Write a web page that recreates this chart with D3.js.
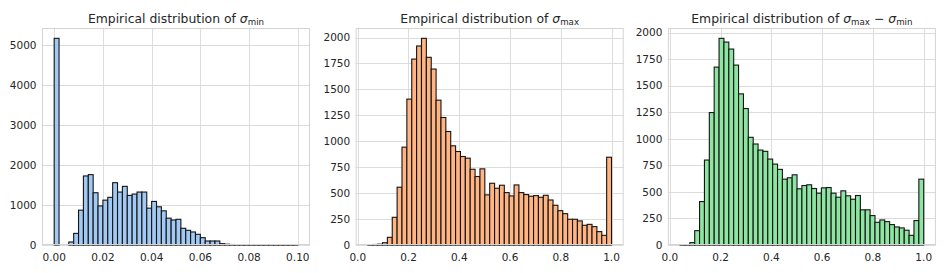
<!DOCTYPE html>
<html>
<head>
<meta charset="utf-8">
<script src="https://cdn.jsdelivr.net/npm/d3@7"></script>
<style>
    body { margin: 0; background: #fff; }
    text { font-family: "DejaVu Sans", sans-serif; fill: #262626; }
</style>
</head>
<body>
<svg id="chart" width="947" height="273"></svg>
<script>
/*global d3*/
// histogram counts, 50 equal-width bins each
var minRange = [0, 0.1],
    minCounts = [5160, 0, 0, 75, 290, 870, 1724, 1757, 1305, 975,
        1120, 1190, 1556, 1322, 1464, 1238, 1272, 1322, 1322, 920,
        1088, 954, 853, 670, 625, 642, 417, 367, 325, 267,
        183, 100, 100, 100, 33, 20, 12, 10, 8, 6,
        5, 4, 3, 3, 2, 2, 1, 1, 1, 1],
    maxRange = [0.04, 1.0],
    maxCounts = [3, 5, 8, 22, 74, 267, 557, 943, 1406, 1792,
        1918, 1992, 1809, 1696, 1396, 1229, 1094, 956, 901, 853,
        837, 730, 660, 734, 483, 595, 547, 576, 505, 473,
        579, 505, 486, 470, 476, 460, 479, 434, 383, 331,
        302, 248, 248, 232, 190, 199, 177, 129, 93, 846],
    diffRange = [0.04, 1.0],
    diffCounts = [2, 3, 22, 135, 409, 800, 1247, 1675, 1946, 1911,
        1845, 1694, 1423, 1285, 1014, 951, 894, 882, 809, 762,
        712, 620, 633, 661, 529, 560, 567, 532, 488, 538,
        541, 488, 450, 510, 463, 431, 466, 331, 331, 277,
        214, 236, 220, 192, 170, 161, 139, 91, 230, 620],
    minXTicks = [0, 0.02, 0.04, 0.06, 0.08, 0.1],
    unitXTicks = [0, 0.2, 0.4, 0.6, 0.8, 1.0],
    minYTicks = [0, 1000, 2000, 3000, 4000, 5000],
    otherYTicks = [0, 250, 500, 750, 1000, 1250, 1500, 1750, 2000];

(function (d3) {
    'use strict';

    var svg = d3.select('#chart'),
        TOP = 28,
        BOTTOM = 245,
        WIDTH = 268,
        GRID_COLOR = '#dcdcdc';

    function drawTitle(g, cx, parts) {
        var t = g.append('text')
            .attr('x', cx)
            .attr('y', 22.5)
            .attr('text-anchor', 'middle')
            .style('font-size', '12.4px');
        parts.forEach(function (p) {
            var span = t.append('tspan').text(p.text);
            if (p.italic) { span.style('font-style', 'italic'); }
            if (p.sub) {
                span.style('font-size', '8.7px').attr('dy', 2.7);
            } else if (p.back) {
                span.attr('dy', -2.7);
            }
        });
    }

    function drawPanel(opts) {
        var g = svg.append('g'),
            left = opts.left,
            n = opts.counts.length,
            binWidth = (opts.range[1] - opts.range[0]) / n,
            span = opts.range[1] - opts.range[0],
            ymax = d3.max(opts.counts) * 1.05,
            x = d3.scaleLinear()
                .domain([opts.range[0] - span * 0.05, opts.range[1] + span * 0.05])
                .range([left, left + WIDTH]),
            y = d3.scaleLinear().domain([0, ymax]).range([BOTTOM, TOP]),
            bins = opts.counts.map(function (c, i) {
                return {x0: opts.range[0] + i * binWidth, x1: opts.range[0] + (i + 1) * binWidth, count: c};
            });

        // grid
        g.selectAll('.hgrid').data(opts.yTicks).enter().append('line')
            .attr('x1', left).attr('x2', left + WIDTH)
            .attr('y1', function (d) { return Math.round(y(d)) + 0.5; })
            .attr('y2', function (d) { return Math.round(y(d)) + 0.5; })
            .attr('stroke', GRID_COLOR).attr('stroke-width', 1);
        g.selectAll('.vgrid').data(opts.xTicks).enter().append('line')
            .attr('y1', TOP).attr('y2', BOTTOM)
            .attr('x1', function (d) { return Math.round(x(d)) + 0.5; })
            .attr('x2', function (d) { return Math.round(x(d)) + 0.5; })
            .attr('stroke', GRID_COLOR).attr('stroke-width', 1);

        // bars
        g.selectAll('.bar').data(bins.filter(function (b) { return b.count > 0; }))
            .enter().append('rect')
            .attr('x', function (b) { return x(b.x0); })
            .attr('width', function (b) { return x(b.x1) - x(b.x0); })
            .attr('y', function (b) { return y(b.count); })
            .attr('height', function (b) { return y(0) - y(b.count); })
            .attr('fill', opts.color)
            .attr('stroke', '#141414')
            .attr('stroke-width', 1.1);

        // frame
        g.append('rect')
            .attr('x', left + 0.5).attr('y', TOP + 0.5)
            .attr('width', WIDTH - 1).attr('height', BOTTOM - TOP - 1)
            .attr('fill', 'none').attr('stroke', '#d4d4d4').attr('stroke-width', 1);

        // tick labels
        g.selectAll('.ylab').data(opts.yTicks).enter().append('text')
            .attr('x', left - 5.5)
            .attr('y', function (d) { return y(d); })
            .attr('dy', '0.36em')
            .attr('text-anchor', 'end')
            .style('font-size', '10.5px')
            .text(function (d) { return d; });
        g.selectAll('.xlab').data(opts.xTicks).enter().append('text')
            .attr('x', function (d) { return x(d); })
            .attr('y', BOTTOM + 15.5)
            .attr('text-anchor', 'middle')
            .style('font-size', '10.5px')
            .text(opts.xFormat);

        drawTitle(g, left + WIDTH / 2, opts.title);
    }

    drawPanel({
        left: 42, counts: minCounts, range: minRange, color: '#a1c9f4',
        xTicks: minXTicks, yTicks: minYTicks, xFormat: d3.format('.2f'),
        title: [{text: 'Empirical distribution of '}, {text: 'σ', italic: true}, {text: 'min', sub: true}]
    });
    drawPanel({
        left: 355.7, counts: maxCounts, range: maxRange, color: '#ffb482',
        xTicks: unitXTicks, yTicks: otherYTicks, xFormat: d3.format('.1f'),
        title: [{text: 'Empirical distribution of '}, {text: 'σ', italic: true}, {text: 'max', sub: true}]
    });
    drawPanel({
        left: 667.9, counts: diffCounts, range: diffRange, color: '#8de5a1',
        xTicks: unitXTicks, yTicks: otherYTicks, xFormat: d3.format('.1f'),
        title: [{text: 'Empirical distribution of '}, {text: 'σ', italic: true}, {text: 'max', sub: true},
            {text: ' − ', back: true}, {text: 'σ', italic: true}, {text: 'min', sub: true}]
    });
}(window.d3));
</script>
</body>
</html>
